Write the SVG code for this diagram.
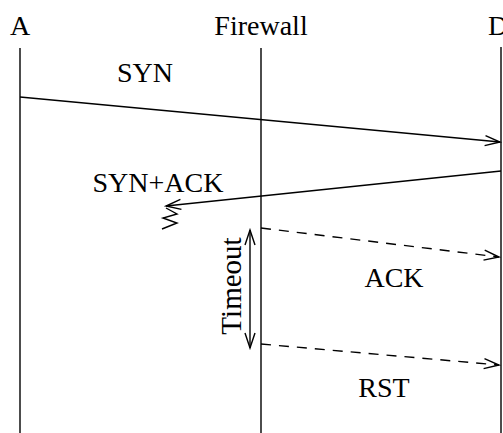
<svg xmlns="http://www.w3.org/2000/svg" width="503" height="433" viewBox="0 0 503 433">
<style>
text{font-family:"Liberation Serif","Times New Roman",serif;font-size:28px;fill:#000}
.life{stroke:#000;stroke-width:1.4}
.msg{stroke:#000;stroke-width:1.4;fill:none}
.dash{stroke-dasharray:10 8}
</style>
<defs>
<marker id="open" markerWidth="18" markerHeight="14" refX="16" refY="7" orient="auto-start-reverse" markerUnits="userSpaceOnUse">
<path d="M1,2 L16,7 L1,12" fill="none" stroke="#000" stroke-width="1.4"/>
</marker>
</defs>
<rect width="503" height="433" fill="#fff"/>
<g id="node-A">
<text x="10" y="35">A</text>
<line class="life" x1="20" y1="48" x2="20" y2="433"/>
</g>
<g id="node-Firewall">
<text x="261" y="35" text-anchor="middle">Firewall</text>
<line class="life" x1="261" y1="48" x2="261" y2="433"/>
</g>
<g id="node-D">
<text x="488" y="35">D</text>
<line class="life" x1="501" y1="47" x2="501" y2="433"/>
</g>
<g id="connectors">
<line class="msg" x1="20" y1="97" x2="500" y2="142" marker-end="url(#open)"/>
<text x="145" y="82" text-anchor="middle">SYN</text>
<line class="msg" x1="501" y1="171" x2="166" y2="206" marker-end="url(#open)"/>
<text x="158" y="192" text-anchor="middle">SYN+ACK</text>
<path class="msg" d="M166,208 L177,214 L163,218 L177,223 L162,229"/>
<line class="msg dash" x1="261" y1="228" x2="499" y2="257" marker-end="url(#open)"/>
<text x="394" y="287" text-anchor="middle">ACK</text>
<line class="msg dash" x1="261" y1="344" x2="499" y2="365" marker-end="url(#open)"/>
<text x="384" y="397" text-anchor="middle">RST</text>
<line class="msg" x1="250" y1="230" x2="250" y2="348" marker-start="url(#open)" marker-end="url(#open)"/>
<text transform="translate(241,286) rotate(-90)" text-anchor="middle" style="font-size:29px">Timeout</text>
</g>
</svg>
